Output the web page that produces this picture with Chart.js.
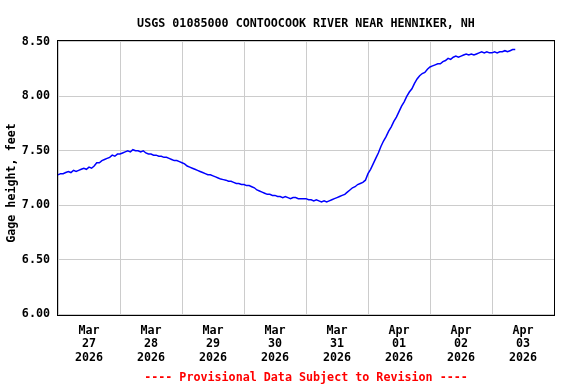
<!DOCTYPE html>
<html>
<head>
<meta charset="utf-8">
<script src="https://cdn.jsdelivr.net/npm/chart.js@4"></script>
<style>
  html, body { margin: 0; padding: 0; background: #ffffff; }
  canvas { display: block; }
</style>
</head>
<body>
<canvas id="c" width="576" height="384"></canvas>
<script>
// ---- data (hourly readings, starting Mar 27 2026 00:00) ----
const chartTitle = 'USGS 01085000 CONTOOCOOK RIVER NEAR HENNIKER, NH';
const yAxisTitle = 'Gage height, feet';
const footNote = '---- Provisional Data Subject to Revision ----';

const tickMonths = ['Mar', 'Mar', 'Mar', 'Mar', 'Mar', 'Apr', 'Apr', 'Apr'];
const tickDays   = ['27', '28', '29', '30', '31', '01', '02', '03'];
const tickYears  = ['2026', '2026', '2026', '2026', '2026', '2026', '2026', '2026'];
const yTickValues = [6.00, 6.50, 7.00, 7.50, 8.00, 8.50];

// gage height, feet, one value per hour
const gageMar27 = [7.28, 7.29, 7.29, 7.30, 7.31, 7.30, 7.32, 7.31, 7.32, 7.33, 7.34, 7.33,
                   7.35, 7.34, 7.36, 7.39, 7.39, 7.41, 7.42, 7.43, 7.44, 7.46, 7.45, 7.47];
const gageMar28 = [7.47, 7.48, 7.49, 7.50, 7.49, 7.51, 7.50, 7.50, 7.49, 7.50, 7.48, 7.47,
                   7.47, 7.46, 7.46, 7.45, 7.45, 7.44, 7.44, 7.43, 7.42, 7.41, 7.41, 7.40];
const gageMar29 = [7.39, 7.38, 7.36, 7.35, 7.34, 7.33, 7.32, 7.31, 7.30, 7.29, 7.28, 7.28,
                   7.27, 7.26, 7.25, 7.24, 7.235, 7.23, 7.22, 7.22, 7.21, 7.20, 7.20, 7.19];
const gageMar30 = [7.19, 7.18, 7.18, 7.17, 7.16, 7.14, 7.13, 7.12, 7.11, 7.10, 7.10, 7.09,
                   7.09, 7.08, 7.08, 7.07, 7.08, 7.07, 7.06, 7.07, 7.07, 7.06, 7.06, 7.06];
const gageMar31 = [7.06, 7.05, 7.05, 7.04, 7.05, 7.04, 7.03, 7.04, 7.03, 7.04, 7.05, 7.06,
                   7.07, 7.08, 7.09, 7.10, 7.12, 7.14, 7.16, 7.17, 7.19, 7.20, 7.21, 7.23];
const gageApr01 = [7.29, 7.33, 7.38, 7.43, 7.48, 7.54, 7.59, 7.63, 7.68, 7.72, 7.77, 7.81,
                   7.86, 7.91, 7.95, 8.00, 8.04, 8.07, 8.12, 8.16, 8.19, 8.21, 8.22, 8.25];
const gageApr02 = [8.27, 8.28, 8.29, 8.30, 8.30, 8.32, 8.33, 8.35, 8.34, 8.36, 8.37, 8.36,
                   8.37, 8.38, 8.39, 8.38, 8.39, 8.38, 8.39, 8.40, 8.41, 8.40, 8.41, 8.40];
const gageApr03 = [8.40, 8.41, 8.40, 8.41, 8.41, 8.42, 8.41, 8.42, 8.43, 8.43];

const gageHeight = [].concat(gageMar27, gageMar28, gageMar29, gageMar30,
                             gageMar31, gageApr01, gageApr02, gageApr03);

// ---- chart ----
const FONT = '"DejaVu Sans Mono", "Liberation Mono", monospace';
const FSIZE = 11.7;

const points = gageHeight.map((v, i) => ({ x: i, y: v }));

const textPlugin = {
  id: 'usgsText',
  afterDraw(chart) {
    const ctx = chart.ctx;
    const a = chart.chartArea;
    const cx = (a.left + a.right) / 2;
    ctx.save();
    // frame
    ctx.strokeStyle = '#000000';
    ctx.lineWidth = 1;
    ctx.strokeRect(Math.round(a.left) - 0.5, Math.round(a.top) - 0.5,
                   Math.round(a.right - a.left) + 1, Math.round(a.bottom - a.top) + 1);
    ctx.fillStyle = '#000000';
    ctx.font = 'bold ' + FSIZE + 'px ' + FONT;
    ctx.textAlign = 'center';
    ctx.textBaseline = 'alphabetic';
    ctx.fillText(chartTitle, cx, 26.5);
    ctx.fillStyle = '#ff0000';
    ctx.fillText(footNote, cx, 381);
    ctx.fillStyle = '#000000';
    ctx.translate(15, 183);
    ctx.rotate(-Math.PI / 2);
    ctx.fillText(yAxisTitle, 0, 0);
    ctx.restore();
  }
};

new Chart(document.getElementById('c'), {
  type: 'line',
  data: {
    datasets: [{
      data: points,
      borderColor: '#0000ff',
      borderWidth: 1.5,
      pointRadius: 0,
      tension: 0,
      fill: false
    }]
  },
  options: {
    responsive: false,
    animation: false,
    devicePixelRatio: 1,
    layout: { padding: { top: 41, right: 22, bottom: 0, left: 0 } },
    plugins: {
      legend: { display: false },
      title: { display: false },
      tooltip: { enabled: false }
    },
    scales: {
      x: {
        type: 'linear',
        min: 0,
        max: 192,
        afterBuildTicks(scale) {
          const t = [];
          for (let h = 0; h <= 192; h += 12) t.push({ value: h });
          scale.ticks = t;
        },
        afterFit(scale) { scale.height = 69; },
        border: { display: false },
        grid: {
          drawTicks: false,
          lineWidth: 1,
          color: (c) => (c.tick && c.tick.value % 24 === 0) ? '#cccccc' : 'rgba(0,0,0,0)'
        },
        ticks: {
          autoSkip: false,
          maxRotation: 0,
          padding: 9,
          color: '#000000',
          font: { family: FONT, size: FSIZE, weight: 'bold', lineHeight: '13.5px' },
          callback(value) {
            if (value % 24 !== 12) return '';
            const d = (value - 12) / 24;
            return [tickMonths[d], tickDays[d], tickYears[d]];
          }
        }
      },
      y: {
        type: 'linear',
        min: 5.991,
        max: 8.509,
        afterBuildTicks(scale) {
          scale.ticks = yTickValues.map(v => ({ value: v }));
        },
        afterFit(scale) { scale.width = 58; },
        border: { display: false },
        grid: { drawTicks: false, color: '#cccccc', lineWidth: 1 },
        ticks: {
          padding: 8,
          color: '#000000',
          font: { family: FONT, size: FSIZE, weight: 'bold' },
          callback(value) { return Number(value).toFixed(2); }
        }
      }
    }
  },
  plugins: [textPlugin]
});
</script>
</body>
</html>
